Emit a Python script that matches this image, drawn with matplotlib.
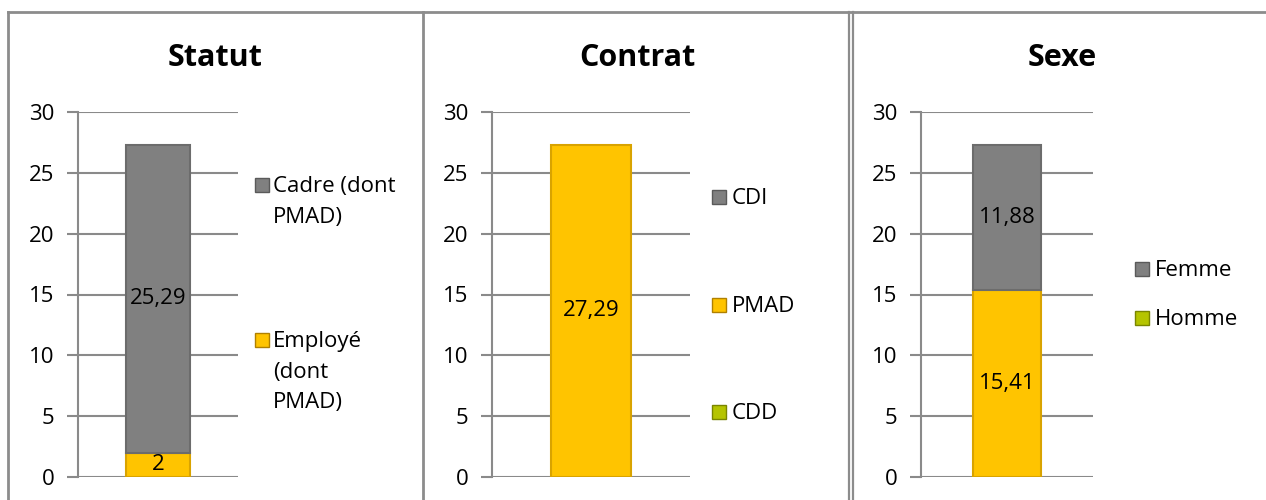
import matplotlib
matplotlib.use("Agg")
import matplotlib.pyplot as plt
from matplotlib.patches import Rectangle
from matplotlib.lines import Line2D

plt.rcParams['font.family'] = ['Open Sans', 'DejaVu Sans']

# ---- data ----
titles = ["Statut", "Contrat", "Sexe"]
statut_labels = ["Employé (dont PMAD)", "Cadre (dont PMAD)"]
statut_values = [2, 25.29]
contrat_labels = ["CDD", "PMAD", "CDI"]
contrat_values = [0, 27.29, 0]
sexe_labels = ["Homme", "Femme"]
sexe_values = [15.41, 11.88]
y_ticks = [0, 5, 10, 15, 20, 25, 30]

W, H = 1266, 500
fig = plt.figure(figsize=(W / 100, H / 100), dpi=100)
fig.patch.set_facecolor("white")

GRAY = "#808080"
GOLD = "#FFC400"
LIME = "#B5C400"
GRID = "#8a8a8a"
FS = 16

def px(x, y):
    return x / W, 1 - y / H

def fig_line(x0, y0, x1, y1, lw=2.0, c="#8c8c8c"):
    a = px(x0, y0); b = px(x1, y1)
    fig.add_artist(Line2D([a[0], b[0]], [a[1], b[1]], transform=fig.transFigure,
                          color=c, lw=lw))

# panel borders
fig_line(8, 12, W, 12)
fig_line(8, 12, 8, H)
fig_line(423, 12, 423, H)
fig_line(849, 12, 849, H, lw=1.6)
fig_line(853, 12, 853, H, lw=1.6)

def make_axes(left, right):
    top, bottom = 112, 477
    x0, y1 = px(left, top)
    x1, y0 = px(right, bottom)
    ax = fig.add_axes([x0, y0, x1 - x0, y1 - y0])
    ax.set_ylim(0, 30)
    ax.set_xlim(-1, 1)
    ax.set_yticks(y_ticks)
    ax.set_yticklabels([str(t) for t in y_ticks], fontsize=FS)
    ax.tick_params(axis='y', length=8, width=1.5, color=GRID, pad=9)
    ax.set_xticks([])
    for s in ["top", "right", "bottom"]:
        ax.spines[s].set_visible(False)
    ax.spines["left"].set_color(GRID)
    ax.spines["left"].set_linewidth(1.5)
    ax.yaxis.grid(True, color=GRID, lw=1.5)
    ax.set_axisbelow(True)
    ax.patch.set_alpha(0)
    return ax

def fmt(v):
    s = ("%.2f" % v).rstrip("0").rstrip(".")
    return s.replace(".", ",")

def stack(ax, values, colors, edges):
    bottom = 0
    for v, c, e in zip(values, colors, edges):
        if v > 0:
            ax.bar(0, v, width=0.8, bottom=bottom, color=c, edgecolor=e, lw=1.5, zorder=3)
            ax.text(0, bottom + v / 2, fmt(v), ha="center", va="center",
                    fontsize=FS, zorder=4)
        bottom += v

def legend(entries, x, text_x):
    for ytop, lines, col, ec in entries:
        x0, y0 = px(x, ytop + 15)
        fig.add_artist(Rectangle((x0, y0), 14 / W, 14 / H, transform=fig.transFigure,
                                 facecolor=col, edgecolor=ec, lw=1))
        fig.text(*px(text_x, ytop - 1), lines, ha="left", va="top", fontsize=FS,
                 linespacing=1.6)

# Panel 1
ax1 = make_axes(78, 238)
stack(ax1, statut_values, [GOLD, GRAY], ["#d9a300", "#6c6c6c"])
fig.text(*px(215, 58), titles[0], ha="center", va="center", fontsize=22, fontweight="bold")
legend([(177, "Cadre (dont\nPMAD)", GRAY, "#5a5a5a"),
        (332, "Employé\n(dont\nPMAD)", GOLD, "#b08000")], 255, 273)

# Panel 2
ax2 = make_axes(492, 690)
stack(ax2, contrat_values, [LIME, GOLD, GRAY], ["#8a9500", "#d9a300", "#6c6c6c"])
fig.text(*px(637, 58), titles[1], ha="center", va="center", fontsize=22, fontweight="bold")
legend([(189, contrat_labels[2], GRAY, "#5a5a5a"),
        (297, contrat_labels[1], GOLD, "#b08000"),
        (404, contrat_labels[0], LIME, "#7a8500")], 712, 732)

# Panel 3
ax3 = make_axes(921, 1093)
stack(ax3, sexe_values, [GOLD, GRAY], ["#d9a300", "#6c6c6c"])
fig.text(*px(1062, 58), titles[2], ha="center", va="center", fontsize=22, fontweight="bold")
legend([(261, sexe_labels[1], GRAY, "#5a5a5a"),
        (310, sexe_labels[0], LIME, "#7a8500")], 1135, 1155)

fig.savefig("out.png", dpi=100)
